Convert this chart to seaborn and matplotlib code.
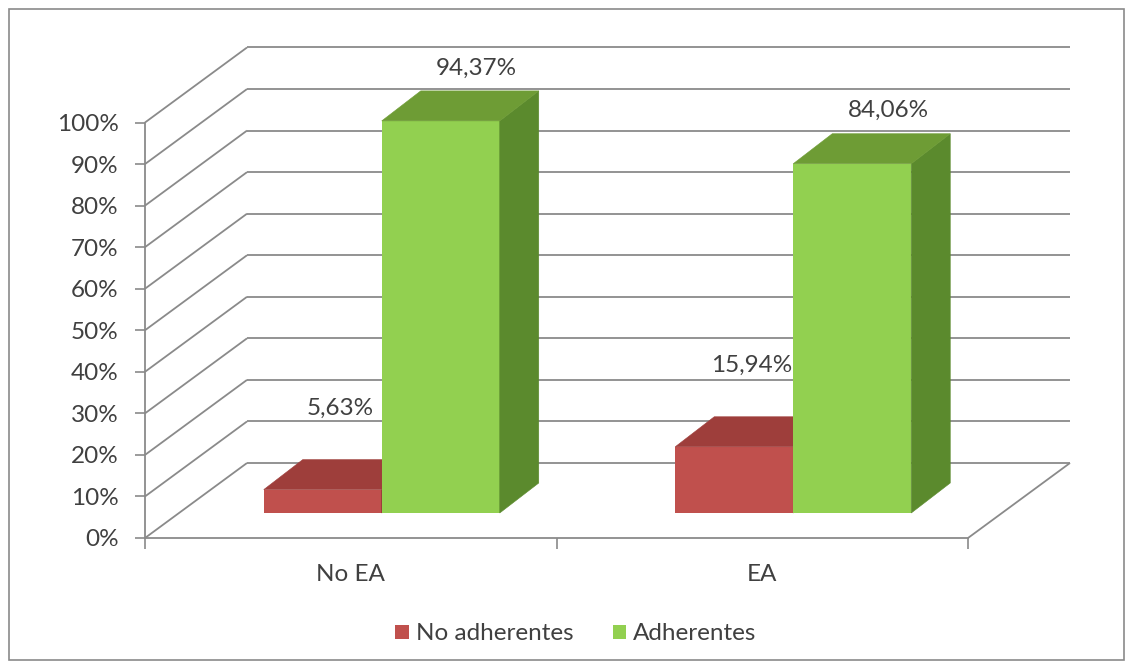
import matplotlib
matplotlib.use("Agg")
import matplotlib.pyplot as plt
from matplotlib import transforms
from matplotlib.patches import Polygon, Patch, Rectangle
import pandas as pd
import seaborn as sns

# --- data -----------------------------------------------------------------
grupos = ["No EA", "EA"]
series = ["No adherentes", "Adherentes"]
no_adherentes = [5.63, 15.94]
adherentes = [94.37, 84.06]
y_ticks = list(range(0, 101, 10))

df = pd.DataFrame({
    "grupo": grupos * 2,
    "serie": [series[0]] * len(grupos) + [series[1]] * len(grupos),
    "pct": no_adherentes + adherentes,
})

# --- style ----------------------------------------------------------------
sns.set_style("white")
plt.rcParams["font.family"] = ["Lato", "DejaVu Sans"]

TXT = "#404040"
LINE = "#8a8a8a"
FS = 17.5
faces = {
    series[0]: {"front": "#c0504d", "top": "#9e3e3b", "side": "#8a3431"},
    series[1]: {"front": "#92d050", "top": "#6e9c35", "side": "#5b8a2d"},
}

W, H = 1130, 667
fig = plt.figure(figsize=(W / 100, H / 100), dpi=100)
left_px, right_px, top_px, bot_px = 145, 968, 122.5, 538
ax = fig.add_axes([left_px / W, 1 - bot_px / H,
                   (right_px - left_px) / W, (bot_px - top_px) / H])

sns.barplot(data=df, x="grupo", y="pct", hue="serie", order=grupos,
            hue_order=series,
            palette=[faces[s]["front"] for s in series],
            width=0.5735, gap=0, saturation=1, errorbar=None,
            linewidth=0, legend=False, ax=ax)

ax.set_xlim(-0.5, 1.5)
ax.set_ylim(0, 100)
ax.set_xlabel("")
ax.set_ylabel("")

# pixel sizes of one data unit, used for the oblique depth
px_x = ax.bbox.width / 2.0
px_y = ax.bbox.height / 100.0
wall_dx, wall_dy = 102 / px_x, 75 / px_y      # depth of the chart box
bar_dx, bar_dy = 39 / px_x, 30 / px_y         # depth of each column

# columns sit part-way into the box
bar_tr = transforms.offset_copy(ax.transData, fig=fig, x=31, y=25, units="dots")

# --- walls and floor ------------------------------------------------------
line_kw = dict(color=LINE, lw=1.3, clip_on=False, zorder=0.5,
               solid_capstyle="butt")
for v in y_ticks:
    ax.plot([-0.5 + wall_dx, 1.5 + wall_dx], [v + wall_dy] * 2, **line_kw)
    ax.plot([-0.5, -0.5 + wall_dx], [v, v + wall_dy], **line_kw)
ax.plot([1.5, 1.5 + wall_dx], [0, wall_dy], **line_kw)

# --- 3D columns -----------------------------------------------------------
front_to_serie = {matplotlib.colors.to_hex(faces[s]["front"]): s for s in series}
label_offset = {series[0]: (17, 81), series[1]: (36, 53)}

for p in list(ax.patches):
    serie = front_to_serie[matplotlib.colors.to_hex(p.get_facecolor())]
    z = 2 if serie == series[0] else 3
    p.set_transform(bar_tr)
    p.set_clip_on(False)
    p.set_zorder(z)
    x0, w, h = p.get_x(), p.get_width(), p.get_height()

    top = Polygon([(x0, h), (x0 + w, h), (x0 + w + bar_dx, h + bar_dy),
                   (x0 + bar_dx, h + bar_dy)], closed=True,
                  facecolor=faces[serie]["top"], edgecolor=faces[serie]["top"],
                  lw=0.4, transform=bar_tr, clip_on=False, zorder=z + 0.1)
    ax.add_patch(top)
    side = Polygon([(x0 + w, 0), (x0 + w + bar_dx, bar_dy),
                    (x0 + w + bar_dx, h + bar_dy), (x0 + w, h)], closed=True,
                   facecolor=faces[serie]["side"], edgecolor=faces[serie]["side"],
                   lw=0.4, transform=bar_tr, clip_on=False, zorder=z + 0.05)
    ax.add_patch(side)

    txt = f"{h:.2f}".replace(".", ",") + "%"
    ax.annotate(txt, xy=(x0 + w / 2, h), xycoords=bar_tr,
                xytext=label_offset[serie], textcoords="offset pixels",
                ha="center", va="center", fontsize=FS, color=TXT,
                annotation_clip=False, zorder=5)

# --- axes -----------------------------------------------------------------
ax.set_yticks(y_ticks, [f"{v}%" for v in y_ticks])
ax.tick_params(axis="y", left=True, length=7, width=1.2, color=LINE,
               direction="out", pad=12, labelsize=FS, labelcolor=TXT)
ax.set_xticks(range(len(grupos)), grupos)
ax.set_xticks([-0.5, 0.5, 1.5], minor=True)
ax.tick_params(axis="x", which="major", bottom=False, length=0, pad=19,
               labelsize=FS, labelcolor=TXT)
ax.tick_params(axis="x", which="minor", bottom=True, length=8, width=1.2,
               color=LINE, direction="out")
for s in ("top", "right"):
    ax.spines[s].set_visible(False)
for s in ("left", "bottom"):
    ax.spines[s].set_color(LINE)
    ax.spines[s].set_linewidth(1.3)
ax.patch.set_visible(False)

# --- legend ---------------------------------------------------------------
handles = [Patch(facecolor=faces[s]["front"], edgecolor="none") for s in series]
fig.legend(handles=handles, labels=series, loc="center",
           bbox_to_anchor=(576 / W, 1 - 634 / H), ncol=2, frameon=False,
           fontsize=FS, handlelength=0.55, handleheight=0.55,
           handletextpad=0.3, columnspacing=1.6, labelcolor=TXT)

# outer chart border
fig.patches.append(Rectangle((9 / W, 1 - 660 / H), (1124 - 9) / W, (660 - 9) / H,
                             transform=fig.transFigure, fill=False,
                             edgecolor=LINE, lw=1.2))

fig.savefig("out.png", dpi=100)
